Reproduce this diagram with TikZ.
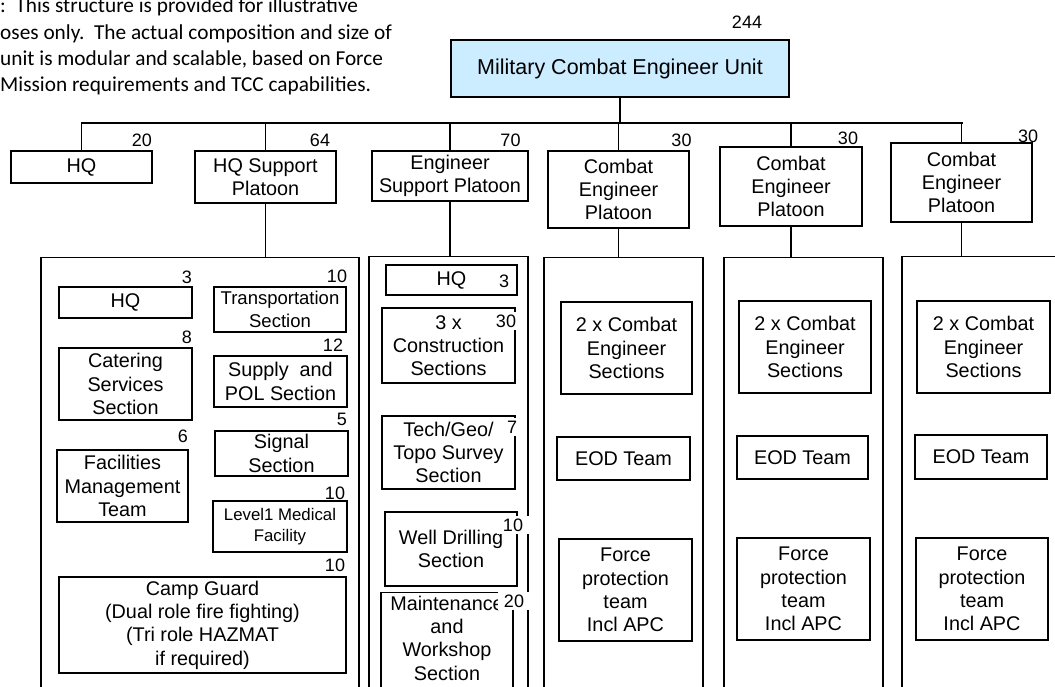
\documentclass[tikz,border=0pt]{standalone}
\usepackage{fontspec}
\setmainfont{Liberation Sans}
\newfontfamily\notefont{Carlito}
\definecolor{unitblue}{HTML}{CCECFF}

\begin{document}
\begin{tikzpicture}[x=1pt, y=-1pt,
	box/.style={draw, line width=1.3pt, align=center, inner sep=0pt, font=\fontsize{19.8}{23.3}\selectfont},
	num/.style={inner sep=0pt, font=\fontsize{18}{20}\selectfont},
	numw/.style={num, fill=white, inner xsep=6pt, inner ysep=3pt},
	link/.style={line width=1.3pt}]
	\useasboundingbox (0,0) rectangle (1055,686);
	\clip (0,0) rectangle (1055,686);
	\node[anchor=north west, inner sep=0pt, align=left, font=\notefont\fontsize{21.3}{26.3}\selectfont] (note) at (0,-2) {:\ \ This structure is provided for illustrative\\oses only.\ \ The actual composition and size of\\unit is modular and scalable, based on Force\\Mission requirements and TCC capabilities.};
	\node[box, line width=2pt, fill=unitblue, minimum width=338pt, minimum height=57pt, font=\fontsize{21.5}{24}\selectfont] (mceu) at (620,68.5) {Military Combat Engineer Unit};
	\node[num] (n244) at (747,22.5) {244};
	\coordinate (busL) at (81,123);
	\coordinate (busR) at (963,123);
	\draw[link] (busL) -- (busR);
	\draw[link] (mceu.south) -- (mceu.south |- busL);
	\node[box, minimum width=141pt, minimum height=32pt] (hq) at (81.5,167) {HQ};
	\node[box, minimum width=141pt, minimum height=52pt] (hqs) at (265.5,177) {HQ Support\\Platoon};
	\node[box, minimum width=156pt, minimum height=50pt] (esp) at (450,176) {Engineer\\Support Platoon};
	\node[box, minimum width=141pt, minimum height=77pt] (cep1) at (618.5,189.5) {Combat\\Engineer\\Platoon};
	\node[box, minimum width=142pt, minimum height=79pt] (cep2) at (791,186.5) {Combat\\Engineer\\Platoon};
	\node[box, minimum width=141pt, minimum height=79pt] (cep3) at (961.5,182.5) {Combat\\Engineer\\Platoon};
	\node[num] (n20) at (142,140.5) {20};
	\node[num] (n64) at (320,140.5) {64};
	\node[num] (n70) at (510.5,140.5) {70};
	\node[num] (n30a) at (681.5,140) {30};
	\node[num] (n30b) at (848,138) {30};
	\node[num] (n30c) at (1028,136) {30};
	\draw[link] (hq.north |- busL) -- (hq.north);
	\draw[link] (hqs.north |- busL) -- (hqs.north);
	\draw[link] (esp.north |- busL) -- (esp.north);
	\draw[link] (cep1.north |- busL) -- (cep1.north);
	\draw[link] (cep2.north |- busL) -- (cep2.north);
	\draw[link] (cep3.north |- busL) -- (cep3.north);
	\node[box, anchor=north, minimum width=318pt, minimum height=440pt] (hqsCol) at (200,257) {};
	\node[box, anchor=north, minimum width=159pt, minimum height=440pt] (espCol) at (448.5,256) {};
	\node[box, anchor=north, minimum width=159pt, minimum height=440pt] (ceCol1) at (623.5,257) {};
	\node[box, anchor=north, minimum width=159pt, minimum height=440pt] (ceCol2) at (803.5,257) {};
	\node[box, anchor=north, minimum width=159pt, minimum height=440pt] (ceCol3) at (981.5,256) {};
	\draw[link] (hqs.south) -- (hqs.south |- hqsCol.north);
	\draw[link] (esp.south) -- (esp.south |- espCol.north);
	\draw[link] (cep1.south) -- (cep1.south |- ceCol1.north);
	\draw[link] (cep2.south) -- (cep2.south |- ceCol2.north);
	\draw[link] (cep3.south) -- (cep3.south |- ceCol3.north);
	\node[box, minimum width=133pt, minimum height=31pt] (hqsHq) at (125.5,302.5) {HQ};
	\node[box, minimum width=132pt, minimum height=45pt, font=\fontsize{18.5}{22.5}\selectfont] (trans) at (280,309.5) {Transportation\\Section};
	\node[box, minimum width=133pt, minimum height=72pt] (cater) at (125.5,384) {Catering\\Services\\Section};
	\node[box, minimum width=133pt, minimum height=51pt] (supply) at (280.5,381.5) {Supply\ \ and\\POL Section};
	\node[box, minimum width=133pt, minimum height=45pt] (signal) at (281.5,453.5) {Signal\\Section};
	\node[box, minimum width=131pt, minimum height=72pt] (facil) at (122.5,486) {Facilities\\Management\\Team};
	\node[box, minimum width=134pt, minimum height=51pt, font=\fontsize{16.8}{21}\selectfont] (medic) at (280,526.5) {Level1 Medical\\Facility};
	\node[box, minimum width=287pt, minimum height=96pt] (guard) at (202.5,625) {Camp Guard\\(Dual role fire fighting)\\(Tri role HAZMAT\\if required)};
	\node[num] (n3a) at (187,277) {3};
	\node[num] (n10a) at (337,276) {10};
	\node[num] (n8) at (187,337) {8};
	\node[num] (n12) at (333,345) {12};
	\node[num] (n5) at (342,419) {5};
	\node[num] (n6) at (183,436) {6};
	\node[num] (n10b) at (335,493) {10};
	\node[num] (n10c) at (335,565) {10};
	\node[box, minimum width=131pt, minimum height=30pt] (espHq) at (451.5,280) {HQ};
	\node[box, minimum width=133pt, minimum height=75pt] (constr) at (448.5,345.5) {3 x\\Construction\\Sections};
	\node[box, minimum width=133pt, minimum height=73pt] (survey) at (448.5,452.5) {Tech/Geo/\\Topo Survey\\Section};
	\node[box, minimum width=132pt, minimum height=74pt] (drill) at (451,549) {Well Drilling\\Section};
	\node[box, anchor=north, minimum width=132pt, minimum height=120pt] (maintBox) at (447,592) {};
	\node[align=center, inner sep=0pt, font=\fontsize{19.8}{23.3}\selectfont] (maint) at (447,638) {Maintenance\\and\\Workshop\\Section};
	\node[num] (n3b) at (504,281) {3};
	\node[numw] (n30d) at (506,321) {30};
	\node[numw] (n7) at (512,427) {7};
	\node[numw] (n10d) at (513,525) {10};
	\node[numw] (n20b) at (514,601) {20};
	\node[box, minimum width=131pt, minimum height=92pt] (secs1) at (626.5,348) {2 x Combat\\Engineer\\Sections};
	\node[box, minimum width=133pt, minimum height=43pt] (eod1) at (623.5,458.5) {EOD Team};
	\node[box, minimum width=133pt, minimum height=102pt] (force1) at (625.5,590) {Force\\protection\\team\\Incl APC};
	\node[box, minimum width=132pt, minimum height=92pt] (secs2) at (805,347) {2 x Combat\\Engineer\\Sections};
	\node[box, minimum width=131pt, minimum height=43pt] (eod2) at (802.5,457.5) {EOD Team};
	\node[box, minimum width=133pt, minimum height=102pt] (force2) at (803.5,589) {Force\\protection\\team\\Incl APC};
	\node[box, minimum width=133pt, minimum height=92pt] (secs3) at (983.5,347) {2 x Combat\\Engineer\\Sections};
	\node[box, minimum width=132pt, minimum height=44pt] (eod3) at (981,457) {EOD Team};
	\node[box, minimum width=132pt, minimum height=102pt] (force3) at (982,589) {Force\\protection\\team\\Incl APC};
\end{tikzpicture}
\end{document}
